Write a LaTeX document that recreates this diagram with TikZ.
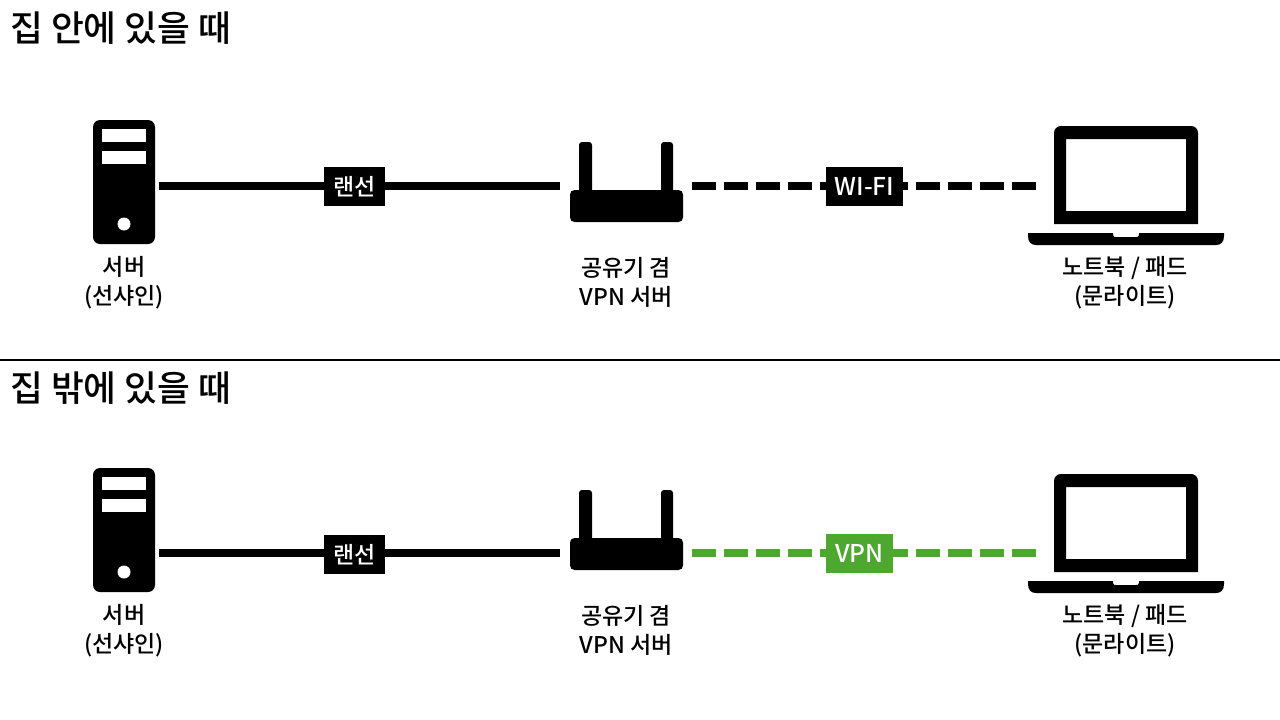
\documentclass[tikz,border=0pt]{standalone}
\usepackage{fontspec}
\setmainfont{Noto Sans CJK KR Medium}
\definecolor{vpngreen}{HTML}{4EA72E}
\tikzset{
  x=1pt,y=-1pt,
  title/.style={anchor=west,inner sep=0pt,font=\fontsize{35.7}{42}\selectfont},
  caption/.style={align=center,inner sep=0pt,font=\fontsize{23}{29.5}\selectfont},
  tag/.style={fill=#1,text=white,inner sep=0pt,minimum height=39pt,font=\fontsize{23}{26}\selectfont},
  cable/.style={line width=8pt},
  dashcable/.style={line width=8pt,dash pattern=on 24pt off 8pt},
  server/.pic={
    \fill[black,rounded corners=7pt] (93,120) rectangle (155,244);
    \fill[white] (102,129) rectangle (146,142);
    \fill[white] (102,151) rectangle (146,164);
    \fill[white] (124,224) circle[radius=6.5];
  },
  router/.pic={
    \fill[black,rounded corners=3pt] (579,142) rectangle (592,200);
    \fill[black,rounded corners=3pt] (661,142) rectangle (673,200);
    \fill[black,rounded corners=4.5pt] (570,190) rectangle (683,222);
  },
  laptop/.pic={
    \fill[black,even odd rule] (1054,224) -- (1054,133) .. controls (1054,129) and (1057,126) .. (1061,126) -- (1191,126) .. controls (1195,126) and (1198,129) .. (1198,133) -- (1198,224) -- cycle
      (1066,139) rectangle (1186,211);
    \fill[black] (1028,233) -- (1113,233) -- (1113,235) .. controls (1114,237) .. (1116,237) -- (1136,237) .. controls (1138,237) .. (1139,235) -- (1139,233) -- (1224,233)
      -- (1224,236) .. controls (1224,242) and (1221,245) .. (1216,245) -- (1036,245) .. controls (1031,245) and (1028,242) .. (1028,236) -- cycle;
  },
}
\begin{document}
\begin{tikzpicture}
\useasboundingbox (0,0) rectangle (1280,720);
\fill[white] (0,0) rectangle (1280,720);

% top row
\node[title] (t1) at (10,28) {집 안에 있을 때};
\pic (srvA) at (0,0) {server};
\pic (rtrA) at (0,0) {router};
\pic (lapA) at (0,0) {laptop};
\coordinate (a1) at (159,186);
\coordinate (a2) at (560,186);
\coordinate (a3) at (692,186);
\coordinate (a4) at (1036,186);
\draw[cable] (a1) -- (a2);
\draw[dashcable] (a3) -- (a4);
\node[tag=black,minimum width=61pt] (lanA) at (354.5,186.5) {랜선};
\node[tag=black,minimum width=77pt] (wifi) at (864.5,186.5) {\fontsize{24.5}{26}\selectfont WI-FI};
\node[caption] (capA1) at (124,282.5) {서버\\(선샤인)};
\node[caption] (capA2) at (626,282.5) {공유기 겸\\VPN 서버};
\node[caption] (capA3) at (1125,282.5) {노트북 / 패드\\(문라이트)};

% divider
\coordinate (d1) at (0,360);
\coordinate (d2) at (1280,360);
\draw[line width=2pt] (d1) -- (d2);

% bottom row
\node[title] (t2) at (10,388) {집 밖에 있을 때};
\pic (srvB) at (0,348) {server};
\pic (rtrB) at (0,348) {router};
\pic (lapB) at (0,348) {laptop};
\coordinate (b1) at (159,553);
\coordinate (b2) at (560,553);
\coordinate (b3) at (692,553);
\coordinate (b4) at (1036,553);
\draw[cable] (b1) -- (b2);
\draw[dashcable,vpngreen] (b3) -- (b4);
\node[tag=black,minimum width=61pt] (lanB) at (354.5,554.5) {랜선};
\node[tag=vpngreen,minimum width=67pt] (vpn) at (859.5,553.5) {\fontsize{24.5}{26}\selectfont VPN};
\node[caption] (capB1) at (124,630.5) {서버\\(선샤인)};
\node[caption] (capB2) at (626,630.5) {공유기 겸\\VPN 서버};
\node[caption] (capB3) at (1125,630.5) {노트북 / 패드\\(문라이트)};
\end{tikzpicture}
\end{document}
